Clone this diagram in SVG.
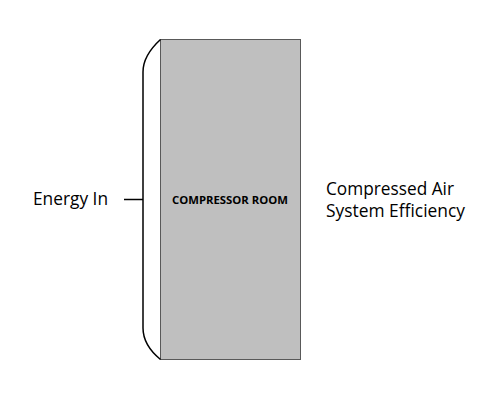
<svg xmlns="http://www.w3.org/2000/svg" width="500" height="400" viewBox="0 0 500 400">
<style>
.lbl{font-family:"Open Sans","Liberation Sans",Arial,sans-serif;font-size:17.5px;fill:#000}
.room{font-family:"Open Sans","Liberation Sans",Arial,sans-serif;font-size:11px;font-weight:bold;fill:#000}
.ln{fill:none;stroke:#000;stroke-width:1.5}
</style>
<rect width="500" height="400" fill="#fff"/>
<g id="room">
<rect x="160.5" y="39.5" width="140" height="320" fill="#BFBFBF" stroke="#595959" stroke-width="1"/>
<text class="room" x="172" y="203.5" textLength="116" lengthAdjust="spacingAndGlyphs">COMPRESSOR ROOM</text>
</g>
<g id="connectors">
<path class="ln" d="M160.5,39.5 C149,50 143,60 143,72 L143,328 C143,340 149,350 160.5,359.5"/>
<line class="ln" x1="124" y1="199.5" x2="143" y2="199.5"/>
</g>
<g id="energy-in">
<text class="lbl" x="33" y="205" textLength="75" lengthAdjust="spacingAndGlyphs">Energy In</text>
</g>
<g id="efficiency">
<text class="lbl" x="326" y="195" textLength="128" lengthAdjust="spacingAndGlyphs">Compressed Air</text>
<text class="lbl" x="326" y="217" textLength="139" lengthAdjust="spacingAndGlyphs">System Efficiency</text>
</g>
</svg>
